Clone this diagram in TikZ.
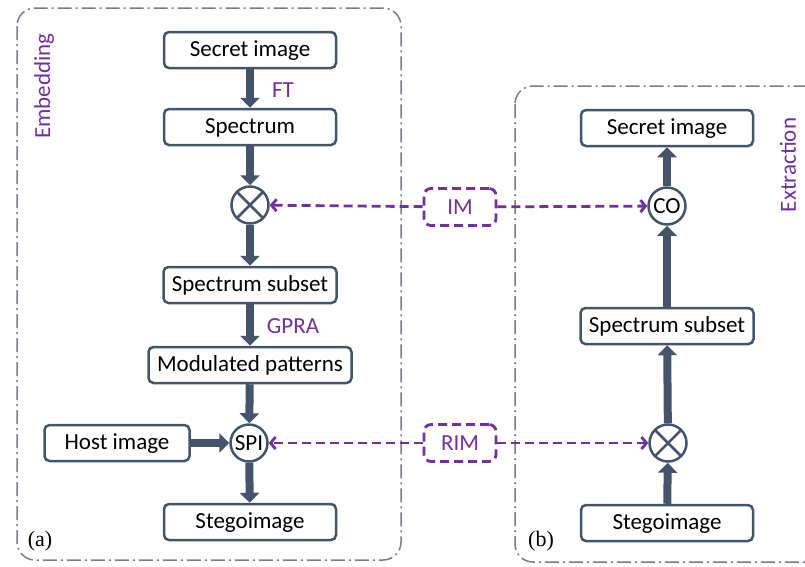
\documentclass[tikz,border=0pt]{standalone}
\usepackage{fontspec}
\setmainfont{Carlito}
\newfontfamily\panelfont{Liberation Serif}
\usetikzlibrary{positioning,arrows.meta}
\definecolor{slate}{RGB}{68,84,106}
\definecolor{labpurple}{RGB}{112,48,160}
\definecolor{panelgray}{RGB}{118,126,138}
\tikzset{
  stagebox/.style={draw=slate, line width=2.5pt, rounded corners=5pt, fill=white,
    minimum height=36pt, inner sep=2pt, text height=16pt, text depth=4pt},
  opnode/.style={draw=slate, circle, line width=2.5pt, minimum size=37pt, inner sep=0pt, fill=white},
  crossnode/.style={opnode, path picture={
      \draw[slate, line width=2.5pt]
        (path picture bounding box.center) +(45:20pt) -- +(225:20pt)
        (path picture bounding box.center) +(135:20pt) -- +(315:20pt);}},
  flow/.style={slate, line width=8pt, -{Triangle[width=19pt,length=10pt]}},
  linkline/.style={labpurple, line width=2.8pt, dash pattern=on 9pt off 5pt,
    -{Straight Barb[length=5pt,width=12pt]}},
  linkbox/.style={draw=labpurple, line width=2.8pt, dash pattern=on 9pt off 5pt,
    rounded corners=7pt, minimum width=72pt, minimum height=37pt, text=labpurple, fill=white},
  panel/.style={draw=panelgray, line width=1.5pt, dash pattern=on 14pt off 4pt on 2pt off 4pt,
    rounded corners=18pt},
  tag/.style={text=labpurple}
}
\begin{document}
\begin{tikzpicture}[x=1pt, y=-1pt, font=\fontsize{23}{26}\selectfont]
  \useasboundingbox (0,0) rectangle (805,566);
  % panels
  \draw[panel] (17,8) rectangle (401,560);
  \draw[panel] (515,86) rectangle (830,562);

  % embedding side
  \node[stagebox, minimum width=172pt] (secretA) at (250,50) {Secret image};
  \node[stagebox, minimum width=172pt] (specA) at (250,127) {Spectrum};
  \node[crossnode] (mulA) at (250,205) {};
  \node[stagebox, minimum width=173pt] (subA) at (250,285) {Spectrum subset};
  \node[stagebox, minimum width=203pt] (modA) at (250,365) {Modulated patterns};
  \node[opnode] (spi) at (249,443) {SPI};
  \node[stagebox, minimum width=145pt] (host) at (117,443) {Host image};
  \node[stagebox, minimum width=172pt] (stegoA) at (250,522) {Stegoimage};
  \node[tag] (ft) at (283,90) {FT};
  \node[tag] (gpra) at (293,326) {GPRA};
  \node[tag, rotate=90] (embedtag) at (44,86) {Embedding};
  \node[font=\panelfont\fontsize{22}{24}\selectfont] (tagA) at (40,541) {(a)};

  \draw[flow] (secretA) -- (specA);
  \draw[flow] (specA) -- (mulA);
  \draw[flow] (mulA) -- (subA);
  \draw[flow] (subA) -- (modA);
  \draw[flow] (modA) -- (spi);
  \draw[flow] (host) -- (spi);
  \draw[flow] (spi) -- (stegoA);

  % extraction side
  \node[stagebox, minimum width=172pt] (secretB) at (667,128) {Secret image};
  \node[opnode] (co) at (667,206) {CO};
  \node[stagebox, minimum width=173pt] (subB) at (667,326) {Spectrum subset};
  \node[crossnode] (mulB) at (668,443) {};
  \node[stagebox, minimum width=172pt] (stegoB) at (667,523) {Stegoimage};
  \node[tag, rotate=90] (extracttag) at (788,165) {Extraction};
  \node[font=\panelfont\fontsize{22}{24}\selectfont] (tagB) at (541,541) {(b)};

  \draw[flow] (stegoB) -- (mulB);
  \draw[flow] (mulB) -- (subB);
  \draw[flow] (subB) -- (co);
  \draw[flow] (co) -- (secretB);

  % shared keys
  \node[linkbox] (im) at (460,207) {IM};
  \node[linkbox] (rim) at (460,443) {RIM};
  \draw[linkline] (im) -- (mulA);
  \draw[linkline] (im) -- (co);
  \draw[linkline] (rim) -- (spi);
  \draw[linkline] (rim) -- (mulB);
\end{tikzpicture}
\end{document}
